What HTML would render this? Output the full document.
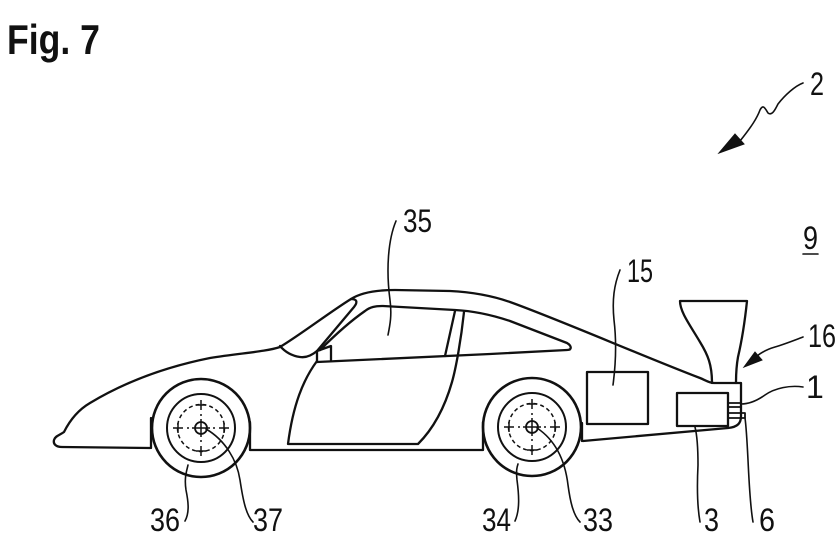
<!DOCTYPE html>
<html><head><meta charset="utf-8"><style>
html,body{margin:0;padding:0;background:#fff;}
svg{display:block;}
text{font-family:"Liberation Sans",sans-serif;fill:#111;}
</style></head><body>
<svg width="840" height="560" viewBox="0 0 840 560" xmlns="http://www.w3.org/2000/svg">
<rect width="840" height="560" fill="#fff"/>
<text x="7" y="54" font-size="42" font-weight="bold" textLength="93" lengthAdjust="spacingAndGlyphs">Fig. 7</text>

<g fill="none" stroke="#111" stroke-width="2.3" stroke-linecap="round" stroke-linejoin="round">
<!-- main body -->
<path d="M150 448 L62 447 C56 447 53 444 54 440 C55 436 60 435 64 432 C70 420 78 410 90 403 C120 385 160 368 210 358 C240 353 265 352 280 347 C300 335 330 312 351 299 C362 292 378 290 395 290 L450 291 C470 292 490 295 510 302 C560 320 640 355 700 378 C705 380 709 383 714 383 L741 383 L741 416 C741 423 738 427 728 428 L583 441"/>
<!-- wheel arch edges and sill -->
<path d="M151 418 L151 448 M250 422 L250 450 L483 450 L483 422 M582 423 L582 441"/>
<!-- windshield -->
<path d="M280 346 C286 353 293 356 300 357 C306 358 311 356 317 351 L354 307 C358 302 357 299 351 299"/>
<!-- mirror -->
<path d="M317 351 L331 346 L331 360 M317 351 L317 362"/>
<!-- side window -->
<path d="M320 350 C335 335 352 320 365 311 C370 307 375 306 383 306 L455 310 C475 311 492 315 510 321 L567 343 C572 346 572 350 567 350 L490 354 L317 362"/>
<!-- B pillar -->
<path d="M455 311 L445 356"/>
<path d="M464 312 C461 340 456 368 452 382 C444 410 432 430 418 444 L288 444 C293 405 303 380 317 361"/>
<!-- boxes -->
<rect x="587" y="372" width="61" height="52"/>
<rect x="677" y="393" width="51" height="33"/>
<path d="M728 403 L741 403 M728 407 L741 407" stroke-width="1.8"/>
<rect x="728" y="413" width="17" height="5" stroke-width="1.8"/>
<!-- funnel -->
<path d="M680 301 L747 301 M680 301 C680 312 690 325 700 342 C708 355 712 365 712 383 M747 301 C745 320 742 340 738 357 C736 368 736 375 736 383"/>
</g>

<!-- wheels -->
<g fill="none" stroke="#111">
<g transform="translate(201,428)">
<circle r="49" stroke-width="2.6"/>
<circle r="34" stroke-width="2"/>
<circle r="23.5" stroke-width="1.5" stroke-dasharray="4 3"/>
<circle r="6" stroke-width="1.8"/>
<path d="M-9 0 L9 0 M0 -9 L0 9 M0 -28 L0 -18 M-5 -23 L5 -23 M0 28 L0 18 M-5 23 L5 23 M-28 0 L-18 0 M-23 -5 L-23 5 M28 0 L18 0 M23 -5 L23 5 M0 -12 L0 -14 M0 12 L0 14 M-12 0 L-14 0 M12 0 L14 0" stroke-width="1.5"/>
</g>
<g transform="translate(532,427)">
<circle r="49" stroke-width="2.6"/>
<circle r="34" stroke-width="2"/>
<circle r="23.5" stroke-width="1.5" stroke-dasharray="4 3"/>
<circle r="6" stroke-width="1.8"/>
<path d="M-9 0 L9 0 M0 -9 L0 9 M0 -28 L0 -18 M-5 -23 L5 -23 M0 28 L0 18 M-5 23 L5 23 M-28 0 L-18 0 M-23 -5 L-23 5 M28 0 L18 0 M23 -5 L23 5 M0 -12 L0 -14 M0 12 L0 14 M-12 0 L-14 0 M12 0 L14 0" stroke-width="1.5"/>
</g>
</g>

<!-- leaders -->
<g fill="none" stroke="#111" stroke-width="1.6" stroke-linecap="round">
<path d="M396 221 C388 240 386 270 390 300 C392 315 390 325 388 335"/>
<path d="M620 270 C614 285 612 300 614 320 C617 345 615 370 613 385"/>
<path d="M803 337 C795 340 785 344 775 347 C768 349 762 352 757 356"/>
<path d="M803 387 C790 385 775 388 765 395 C758 400 750 404 741 404"/>
<path d="M803 83 C795 86 785 95 778 104 C775 110 772 116 768 113 C765 108 763 104 760 110 C757 118 752 126 740 141"/>
<path d="M185 521 C190 512 188 500 186 490 C184 477 187 470 188 465"/>
<path d="M253 522 C246 515 243 500 240 480 C237 460 225 440 206 429"/>
<path d="M515 521 C520 510 519 495 517 480 C516 470 517 467 518 464"/>
<path d="M580 522 C573 515 570 500 568 485 C565 460 555 440 537 428"/>
<path d="M700 522 C697 505 697 485 698 465 C698 450 697 435 695 427"/>
<path d="M753 522 C750 505 749 480 748 460 C747 440 746 425 745 418"/>
<path d="M803 254 L818 254"/>
</g>
<g fill="#111" stroke="#111" stroke-width="1">
<polygon points="719,153 735,134 744,144"/>
<polygon points="744,367 755,352 762,360"/>
</g>

<!-- labels -->
<g font-size="32">
<text x="810" y="95" textLength="14" lengthAdjust="spacingAndGlyphs">2</text>
<text x="803" y="249" textLength="15" lengthAdjust="spacingAndGlyphs">9</text>
<text x="403" y="232" textLength="29" lengthAdjust="spacingAndGlyphs">35</text>
<text x="627" y="282" textLength="26" lengthAdjust="spacingAndGlyphs">15</text>
<text x="808" y="347" textLength="28" lengthAdjust="spacingAndGlyphs">16</text>
<text x="806" y="398">1</text>
<text x="150" y="531" textLength="30" lengthAdjust="spacingAndGlyphs">36</text>
<text x="253" y="531" textLength="30" lengthAdjust="spacingAndGlyphs">37</text>
<text x="482" y="531" textLength="29" lengthAdjust="spacingAndGlyphs">34</text>
<text x="583" y="531" textLength="30" lengthAdjust="spacingAndGlyphs">33</text>
<text x="704" y="531" textLength="15" lengthAdjust="spacingAndGlyphs">3</text>
<text x="759" y="531" textLength="16" lengthAdjust="spacingAndGlyphs">6</text>
</g>
</svg>
</body></html>
